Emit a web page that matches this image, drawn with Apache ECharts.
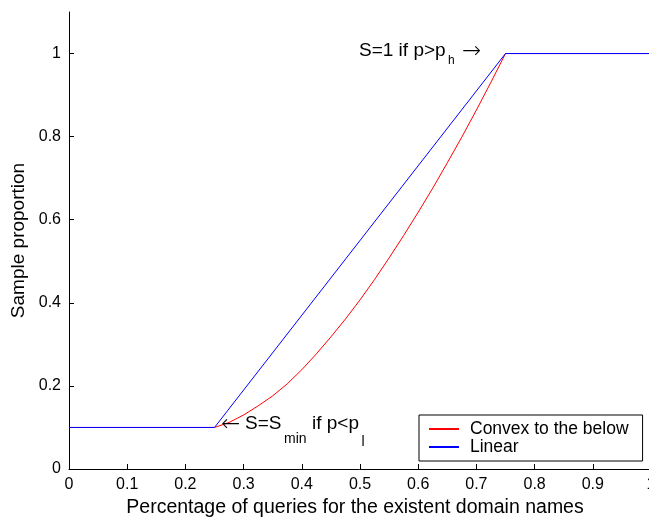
<!DOCTYPE html>
<html lang="en">
<head>
    <meta charset="UTF-8">
    <title>sample proportion</title>
    <script type="text/javascript" src="https://cdn.jsdelivr.net/npm/echarts@6/dist/echarts.min.js"></script>
</head>
<body style="margin:0;background:#fff;">
<div id="main" style="width: 649px;height: 520px;"></div>

<script type="text/javascript">

    // values
    var convexX = [0, 0.25, 0.275, 0.3, 0.325, 0.35, 0.375, 0.4, 0.425, 0.45, 0.475, 0.5,
        0.525, 0.55, 0.575, 0.6, 0.625, 0.65, 0.675, 0.7, 0.725, 0.75, 1];
    var convexY = [0.1, 0.1, 0.112, 0.13, 0.152, 0.176, 0.205, 0.239, 0.277, 0.318, 0.361, 0.407,
        0.456, 0.508, 0.562, 0.618, 0.676, 0.737, 0.799, 0.864, 0.931, 1, 1];
    var linearX = [0, 0.25, 0.75, 1];
    var linearY = [0.1, 0.1, 1, 1];
    var seriesNames = ['Convex to the below', 'Linear'];

    var font = "'Liberation Sans', Arial, sans-serif";
    var arrowFont = "'DejaVu Sans', sans-serif";

    function pairs(xs, ys) {
        var out = [];
        for (var i = 0; i < xs.length; i++) {
            out.push([xs[i], ys[i]]);
        }
        return out;
    }

    function txt(text, x, y, size, family, weight) {
        return {
            type: 'text',
            x: x,
            y: y,
            z: 100,
            style: {
                text: text,
                fill: '#000',
                font: (weight || 'normal') + ' ' + size + 'px ' + (family || font),
                align: 'left',
                verticalAlign: 'middle'
            }
        };
    }

    var mainChart = echarts.init(document.getElementById('main'));

    var option = {
        animation: false,
        backgroundColor: '#fff',
        grid: {left: 69, right: -2, top: 12, bottom: 51, outerBoundsMode: 'none', containLabel: false},
        xAxis: {
            type: 'value',
            min: 0,
            max: 1,
            interval: 0.1,
            name: 'Percentage of queries for the existent domain names',
            nameLocation: 'middle',
            nameGap: 29,
            nameTextStyle: {fontSize: 19.5, fontFamily: font, color: '#000', padding: [0, 10, 0, 0]},
            axisLine: {lineStyle: {color: '#000', width: 1}},
            axisTick: {inside: true, length: 5, lineStyle: {color: '#000'}},
            axisLabel: {fontSize: 16, fontFamily: font, color: '#000', margin: 8},
            splitLine: {show: false}
        },
        yAxis: {
            type: 'value',
            min: 0,
            max: 1.1,
            interval: 0.2,
            name: 'Sample proportion',
            nameLocation: 'middle',
            nameGap: 38,
            nameTextStyle: {fontSize: 19, fontFamily: font, color: '#000'},
            axisLine: {show: true, lineStyle: {color: '#000', width: 1}},
            axisTick: {show: true, inside: true, length: 5, lineStyle: {color: '#000'}},
            axisLabel: {fontSize: 16, fontFamily: font, color: '#000', margin: 8, showMaxLabel: false},
            splitLine: {show: false}
        },
        legend: {
            orient: 'vertical',
            left: 419,
            top: 415,
            padding: [5, 14, 5, 9],
            itemWidth: 30,
            itemHeight: 14,
            itemGap: 0,
            borderColor: '#000',
            borderWidth: 1,
            backgroundColor: '#fff',
            itemStyle: {opacity: 0},
            textStyle: {fontSize: 17.5, fontFamily: font, color: '#000', lineHeight: 18, padding: [0, 0, 0, 6]},
            data: seriesNames
        },
        series: [
            {
                name: seriesNames[0],
                type: 'line',
                symbol: 'none',
                color: '#ff0000',
                lineStyle: {width: 1, color: '#ff0000'},
                data: pairs(convexX, convexY)
            },
            {
                name: seriesNames[1],
                type: 'line',
                symbol: 'none',
                color: '#0000ff',
                lineStyle: {width: 1, color: '#0000ff'},
                data: pairs(linearX, linearY)
            }
        ],
        graphic: [
            txt('S=1 if p>p', 359, 50.5, 19),
            txt('h', 448, 61, 12),
            txt('\u2192', 462, 52, 23, arrowFont, 200),
            txt('\u2190', 221, 425, 23, arrowFont, 200),
            txt('S=S', 245, 424, 19),
            txt('min', 284, 439, 14),
            txt('if p<p', 312, 424, 19),
            txt('l', 361.5, 442, 14)
        ]
    };
    mainChart.setOption(option);
</script>
</body>
</html>
